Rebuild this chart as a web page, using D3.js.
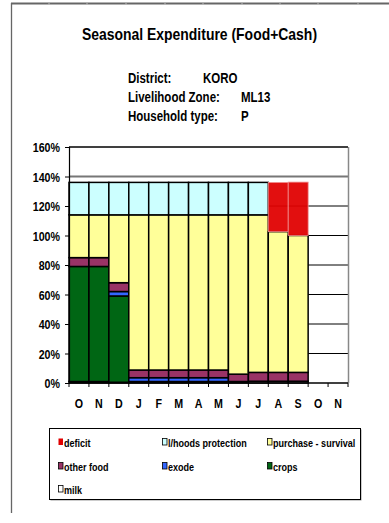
<!DOCTYPE html>
<html>
<head>
<meta charset="utf-8">
<script src="https://cdn.jsdelivr.net/npm/d3@7"></script>
<style>
  html, body { margin: 0; padding: 0; background: #fff; }
  svg { display: block; }
  text { font-family: 'Liberation Sans Narrow', 'Arial Narrow', 'Liberation Sans', Arial, sans-serif; font-weight: bold; fill: #000; }
</style>
</head>
<body>
<svg id="chart" width="389" height="523"></svg>
<script>
// Months of the consumption year (October to November)
const months = ["O", "N", "D", "J", "F", "M", "A", "M", "J", "J", "A", "S", "O", "N"];

// Share of annual needs covered by each source, % (stack order bottom to top)
const milk       = [1, 1, 0.5, 1, 1, 1, 1, 1, 1, 1.2, 1.2, 1.2, 0, 0];
const crops      = [78, 78, 58.5, 0, 0, 0, 0, 0, 0, 0, 0, 0, 0, 0];
const exode      = [0, 0, 3, 2.6, 2.6, 2.6, 2.6, 2.6, 0, 0, 0, 0, 0, 0];
const otherFood  = [6, 6, 6, 5.2, 5.2, 5.2, 5.2, 5.2, 5, 6, 6, 6, 0, 0];
const purchase   = [29, 29, 46, 105.2, 105.2, 105.2, 105.2, 105.2, 108, 106.8, 95.4, 92.8, 0, 0];
const protection = [22, 22, 22, 22, 22, 22, 22, 22, 22, 22, 0, 0, 0, 0];
const deficit    = [0, 0, 0, 0, 0, 0, 0, 0, 0, 0, 33.4, 36.2, 0, 0];

const yTicks = [0, 20, 40, 60, 80, 100, 120, 140, 160];

const series = [
  { key: "milk",       label: "milk",                values: milk,       color: "#ffffff" },
  { key: "crops",      label: "crops",               values: crops,      color: "#006614" },
  { key: "exode",      label: "exode",               values: exode,      color: "#3366ff" },
  { key: "otherFood",  label: "other food",          values: otherFood,  color: "#993366" },
  { key: "purchase",   label: "purchase - survival", values: purchase,   color: "#ffff99" },
  { key: "protection", label: "l/hoods protection",  values: protection, color: "#ccffff" },
  { key: "deficit",    label: "deficit",             values: deficit,    color: "#e00000" }
];

const legendOrder = ["deficit", "protection", "purchase", "otherFood", "exode", "crops", "milk"];

const svg = d3.select("#chart");

// Narrow-font fallback: squeeze text if a condensed face is not available
const probe = svg.append("text").style("font-size", "20px").text("Seasonal Expenditure");
const probeW = probe.node().getComputedTextLength();
probe.style("font-family", "'Liberation Sans', Arial, sans-serif");
const regularW = probe.node().getComputedTextLength();
probe.remove();
const needSqueeze = probeW > regularW * 0.93;
function narrow(sel) {
  if (!needSqueeze) return;
  sel.each(function () {
    const w = this.getComputedTextLength();
    d3.select(this).attr("textLength", w * 0.82).attr("lengthAdjust", "spacingAndGlyphs");
  });
}

// Page frame
svg.append("line").attr("x1", 11).attr("x2", 389).attr("y1", 3.5).attr("y2", 3.5)
  .attr("stroke", "#666").attr("stroke-width", 2);
svg.append("line").attr("x1", 11.5).attr("x2", 11.5).attr("y1", 3).attr("y2", 513)
  .attr("stroke", "#666").attr("stroke-width", 1.3);
[49, 87, 126, 165, 203, 242, 280, 318, 358].forEach(x => {
  svg.append("line").attr("x1", x).attr("x2", x).attr("y1", 3).attr("y2", 5)
    .attr("stroke", "#bbb").attr("stroke-width", 1);
});

// Titles
const title = svg.append("text").attr("x", 199.5).attr("y", 40).attr("text-anchor", "middle")
  .style("font-size", "17px").text("Seasonal Expenditure (Food+Cash)");
narrow(title);

const info = [
  ["District:", "KORO", 203, 83],
  ["Livelihood Zone:", "ML13", 241, 102],
  ["Household type:", "P", 241, 121]
];
info.forEach(([k, v, vx, y]) => {
  narrow(svg.append("text").attr("x", 128).attr("y", y).style("font-size", "14px").text(k));
  narrow(svg.append("text").attr("x", vx).attr("y", y).style("font-size", "14px").text(v));
});

// Plot area
const x0 = 69, x1 = 348, yTop = 147, yBot = 383;
const x = d3.scaleBand().domain(d3.range(months.length)).range([x0, x1]).paddingInner(0).paddingOuter(0);
const y = d3.scaleLinear().domain([0, 160]).range([yBot, yTop]);

// Gridlines
const g = svg.append("g");
g.selectAll("line.grid").data(yTicks.filter(t => t > 0)).join("line")
  .attr("x1", x0).attr("x2", x1)
  .attr("y1", d => y(d)).attr("y2", d => y(d))
  .attr("stroke", d => d === 140 ? "#777" : "#000")
  .attr("stroke-width", d => d === 140 ? 2 : 1);

// Stacked bars
const rows = months.map((m, i) => {
  const r = { i };
  series.forEach(s => { r[s.key] = s.values[i]; });
  return r;
});
const stack = d3.stack().keys(series.map(s => s.key));
const layers = stack(rows);

layers.forEach((layer, li) => {
  const s = series[li];
  const isDeficit = s.key === "deficit";
  g.append("g").selectAll("rect").data(layer.filter(d => d[1] - d[0] > 0)).join("rect")
    .attr("x", d => x(d.data.i))
    .attr("width", x.bandwidth())
    .attr("y", d => y(d[1]))
    .attr("height", d => y(d[0]) - y(d[1]))
    .attr("fill", s.color)
    .attr("fill-opacity", isDeficit ? 0.94 : 1)
    .attr("stroke", isDeficit ? "#f09090" : "#000")
    .attr("stroke-width", isDeficit ? 0.8 : 1.5);
});

// Right border of plot
svg.append("line").attr("x1", x1 + 0.5).attr("x2", x1 + 0.5).attr("y1", yTop).attr("y2", yBot)
  .attr("stroke", "#888").attr("stroke-width", 1.5);
svg.append("line").attr("x1", x0).attr("x2", x1).attr("y1", yTop).attr("y2", yTop)
  .attr("stroke", "#000").attr("stroke-width", 1);

// Y axis
const yAxis = svg.append("g").attr("transform", `translate(${x0},0)`)
  .call(d3.axisLeft(y).tickValues(yTicks).tickFormat(d => d + "%").tickSize(4).tickPadding(5));
yAxis.select(".domain").attr("stroke", "#000").attr("stroke-width", 1.2);
yAxis.selectAll(".tick line").attr("stroke", "#000");
yAxis.selectAll("text").style("font-size", "13px").attr("font-family", null).attr("font-size", null)
  .attr("dy", "0.36em");
narrow(yAxis.selectAll("text"));

// X axis: ticks at month boundaries, labels centred on bars
const xAxisG = svg.append("g");
xAxisG.append("line").attr("x1", x0).attr("x2", x1).attr("y1", yBot).attr("y2", yBot)
  .attr("stroke", "#000").attr("stroke-width", 1.5);
xAxisG.selectAll("line.tk").data(d3.range(months.length + 1)).join("line")
  .attr("x1", i => x0 + i * x.step()).attr("x2", i => x0 + i * x.step())
  .attr("y1", yBot).attr("y2", yBot + 4).attr("stroke", "#000");
const mLabels = xAxisG.selectAll("text").data(months).join("text")
  .attr("x", (d, i) => x(i) + x.bandwidth() / 2).attr("y", 408)
  .attr("text-anchor", "middle").style("font-size", "13px").text(d => d);
narrow(mLabels);

// Legend
const lg = svg.append("g");
lg.append("rect").attr("x", 50.5).attr("y", 429.5).attr("width", 311).attr("height", 71)
  .attr("fill", "#999");
lg.append("rect").attr("x", 49.5).attr("y", 428.5).attr("width", 311).attr("height", 71)
  .attr("fill", "#fff").attr("stroke", "#000").attr("stroke-width", 1);
const colX = [58, 162, 267], rowY = [442, 466, 489];
legendOrder.forEach((k, idx) => {
  const s = series.find(d => d.key === k);
  const cx = colX[idx % 3], cy = rowY[Math.floor(idx / 3)];
  lg.append("rect").attr("x", cx + 0.5).attr("y", cy - 3.5).attr("width", 4.5).attr("height", 6.5)
    .attr("fill", s.color).attr("stroke", k === "deficit" ? "none" : "#000").attr("stroke-width", 0.8);
  narrow(lg.append("text").attr("x", cx + 6).attr("y", cy + 4.5).style("font-size", "11px").text(s.label));
});
</script>
</body>
</html>
